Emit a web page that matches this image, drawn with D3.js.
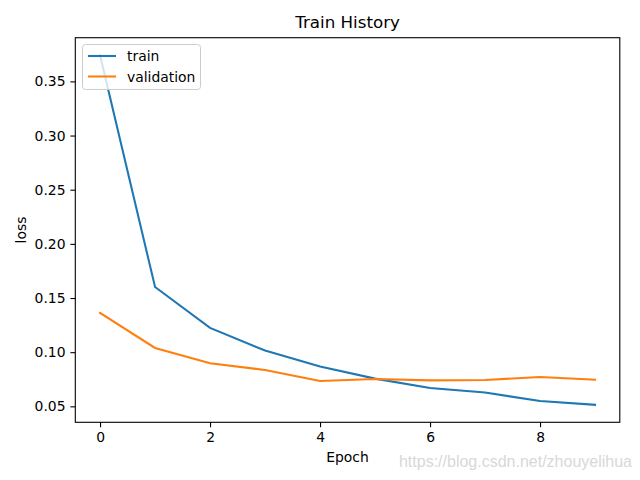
<!DOCTYPE html>
<html><head><meta charset="utf-8">
<script src="https://cdn.jsdelivr.net/npm/d3@7"></script>
<style>body{margin:0;background:#fff}svg{display:block;font-family:"DejaVu Sans",sans-serif}</style>
</head><body><svg id="c" width="640" height="480"></svg>
<script>
const epochs = [0,1,2,3,4,5,6,7,8,9];
const trainLoss = [0.3742,0.1602,0.1224,0.1015,0.0867,0.0756,0.0669,0.0627,0.0549,0.0514];
const valLoss = [0.1362,0.1039,0.0897,0.0836,0.0734,0.0752,0.0740,0.0743,0.0771,0.0746];
const xTicks = [0,2,4,6,8];
const yTicks = [0.05,0.10,0.15,0.20,0.25,0.30,0.35];
const seriesNames = ["train","validation"];
const colors = ["#1f77b4","#ff7f0e"];

const svg = d3.select("#c");
const L = 75.3, R = 619.8, T = 37.7, B = 422.3;
const xe = d3.extent(epochs), xp = (xe[1]-xe[0])*0.05;
const all = trainLoss.concat(valLoss);
const ye = d3.extent(all), yp = (ye[1]-ye[0])*0.05;
const x = d3.scaleLinear().domain([xe[0]-xp, xe[1]+xp]).range([L,R]);
const y = d3.scaleLinear().domain([ye[0]-yp, ye[1]+yp]).range([B,T]);

const xa = svg.append("g").attr("transform",`translate(0,${B})`)
  .call(d3.axisBottom(x).tickValues(xTicks).tickFormat(d3.format("d")).tickSizeOuter(0).tickSize(4.9).tickPadding(4.9));
const ya = svg.append("g").attr("transform",`translate(${L},0)`)
  .call(d3.axisLeft(y).tickValues(yTicks).tickFormat(d3.format(".2f")).tickSizeOuter(0).tickSize(4.9).tickPadding(4.9));
[xa,ya].forEach(a=>{
  a.select(".domain").remove();
  a.selectAll(".tick line").attr("stroke","#000").attr("stroke-width",1.1);
  a.selectAll(".tick text").attr("fill","#000").style("font-size","13.9px").style("font-family","DejaVu Sans");
});

const line = d3.line().x((d,i)=>x(epochs[i])).y(d=>y(d));
[trainLoss,valLoss].forEach((s,k)=>{
  svg.append("path").datum(s).attr("d",line).attr("fill","none")
    .attr("stroke",colors[k]).attr("stroke-width",2.08).attr("stroke-linecap","square");
});

svg.append("rect").attr("x",L).attr("y",T).attr("width",R-L).attr("height",B-T)
  .attr("fill","none").attr("stroke","#000").attr("stroke-width",1.1);

svg.append("text").attr("x",(L+R)/2).attr("y",28).attr("text-anchor","middle")
  .style("font-size","16.7px").text("Train History");
svg.append("text").attr("x",(L+R)/2).attr("y",462).attr("text-anchor","middle")
  .style("font-size","13.9px").text("Epoch");
svg.append("text").attr("transform",`translate(26,${(T+B)/2}) rotate(-90)`).attr("text-anchor","middle")
  .style("font-size","13.9px").text("loss");

// legend
const lg = svg.append("g");
lg.append("rect").attr("x",82.5).attr("y",44.5).attr("width",118).attr("height",45).attr("rx",3)
  .attr("fill","#fff").attr("fill-opacity",0.8).attr("stroke","#ccc").attr("stroke-width",1);
seriesNames.forEach((n,i)=>{
  const yy = 56 + i*20.5;
  lg.append("line").attr("x1",88).attr("x2",116).attr("y1",yy).attr("y2",yy)
    .attr("stroke",colors[i]).attr("stroke-width",2.08);
  lg.append("text").attr("x",127).attr("y",yy+5).style("font-size","13.9px").text(n);
});

svg.append("text").attr("x",632).attr("y",467).attr("text-anchor","end")
  .style("font-family","Liberation Sans, Arial, sans-serif").style("font-size","16px")
  .attr("fill","#d8d8d8").text("https://blog.csdn.net/zhouyelihua");
</script></body></html>
